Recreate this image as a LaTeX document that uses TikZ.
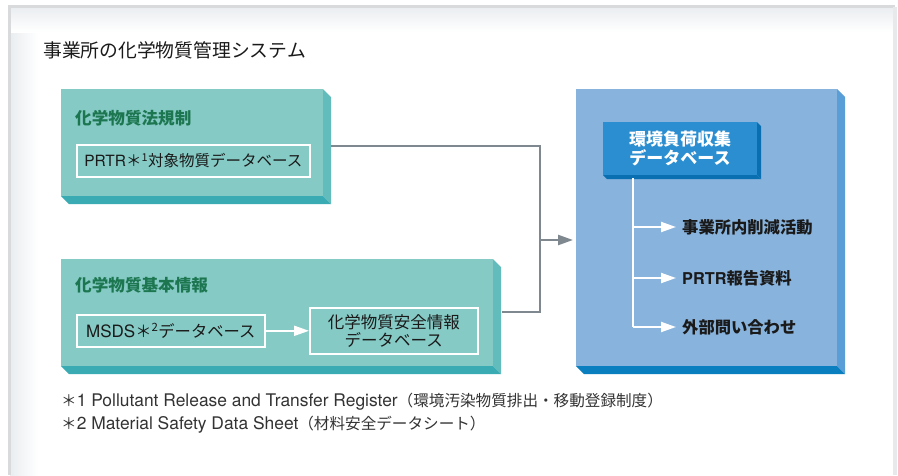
\documentclass[tikz,border=0pt]{standalone}
\usepackage{fontspec}
\setmainfont{Noto Sans CJK JP}
\newfontfamily\heros{TeX Gyre Heros}
\usetikzlibrary{arrows.meta,calc}

\definecolor{tealface}{HTML}{85CAC5}
\definecolor{tealside}{HTML}{62BCBB}
\definecolor{tealbottom}{HTML}{3AAAB3}
\definecolor{panelface}{HTML}{88B3DD}
\definecolor{panelside}{HTML}{5A9ED8}
\definecolor{panelbottom}{HTML}{0A7FBF}
\definecolor{dbface}{HTML}{2A8ED0}
\definecolor{dbside}{HTML}{0A6FB0}
\definecolor{headgreen}{HTML}{1C7650}
\definecolor{linkgray}{HTML}{7E888E}
\definecolor{framegray}{HTML}{D8DADC}
\definecolor{haze}{HTML}{EAEDF0}
\definecolor{inktext}{HTML}{1A1A1A}
\definecolor{notetext}{HTML}{333333}

% side and bottom faces of an extruded block: node, depth, side colour, bottom colour
\newcommand\sidefaces[4]{%
  \fill[#3] (#1.north east) -- ++(#2,#2) -- ($(#1.south east)+(#2,#2)$) -- (#1.south east) -- cycle;
  \fill[#4] (#1.south west) -- ++(#2,#2) -- ($(#1.south east)+(#2,#2)$) -- (#1.south east) -- cycle;}
% Latin run in the sans face at a given size
\newcommand\latinrun[2]{{\heros\fontsize{#1}{#1}\selectfont #2}}

\begin{document}
\begin{tikzpicture}[x=1pt,y=-1pt,
  face/.style={anchor=north west,inner sep=0pt,outer sep=0pt},
  heading/.style={anchor=west,inner sep=0pt,text=headgreen,font=\fontsize{16.6}{18}\selectfont\bfseries},
  wbox/.style={draw=white,line width=1.6pt,inner sep=0pt,text=inktext,font=\fontsize{15.5}{18}\selectfont,align=center},
  item/.style={anchor=west,inner sep=0pt,text=inktext,font=\fontsize{16.3}{18}\selectfont\bfseries},
  note/.style={anchor=west,inner sep=0pt,text=notetext,font=\fontsize{15.6}{16}\selectfont},
  link/.style={draw=linkgray,line width=2.4pt},
  wline/.style={draw=white,line width=2pt},
  warrow/.style={wline,-{Triangle[length=15pt,width=10pt]}}
]
\useasboundingbox (0,0) rectangle (898,475);

% page frame with soft haze along the top and left edges
\fill[white] (0,0) rectangle (898,475);
\shade[left color=haze,right color=white] (10,7) rectangle (38,475);
\shade[top color=haze,bottom color=white] (10,7) rectangle (893,32);
\fill[framegray] (8,5) rectangle (895,7.5);
\fill[framegray] (8,5) rectangle (10.5,475);
\fill[framegray!60] (893,7) rectangle (897,475);

% title
\node[anchor=west,inner sep=0pt,text=inktext,font=\fontsize{18.8}{20}\selectfont] (title) at (43,50) {事業所の化学物質管理システム};

% extruded blocks
\node[face,fill=tealface,minimum width=262pt,minimum height=107pt] (law) at (61,89) {};
\sidefaces{law}{8}{tealside}{tealbottom}
\node[face,fill=tealface,minimum width=432pt,minimum height=107pt] (info) at (61,259) {};
\sidefaces{info}{8}{tealside}{tealbottom}
\node[face,fill=panelface,minimum width=261pt,minimum height=277pt] (panel) at (576,89) {};
\sidefaces{panel}{8}{panelside}{panelbottom}
\node[face,fill=dbface,minimum width=154pt,minimum height=53pt] (db) at (603,122) {};
\sidefaces{db}{4}{dbside}{dbside}
\node[text=white,font=\fontsize{17}{19}\selectfont\bfseries,align=center,inner sep=0pt] (dbtext) at (db.center) {環境負荷収集\\データベース};

% contents of the left blocks
\node[heading] (lawhead) at (75,118) {化学物質法規制};
\node[wbox,minimum width=233pt,minimum height=32pt,anchor=north west] (prtr) at (76,144) {\latinrun{15.5}{PRTR}＊\textsuperscript{1}対象物質データベース};
\node[heading] (infohead) at (75,285) {化学物質基本情報};
\node[wbox,minimum width=188pt,minimum height=32pt,anchor=north west,font=\fontsize{16.3}{18}\selectfont] (msds) at (76,314) {\latinrun{17}{MSDS}＊\textsuperscript{2}データベース};
\node[wbox,minimum width=168pt,minimum height=46pt,anchor=north west,font=\fontsize{16.5}{18.5}\selectfont] (safety) at (309,307) {化学物質安全情報\\データベース};
\draw[warrow] (msds.east) -- (msds.east -| safety.west);

% connectors into the panel
\coordinate (lawout) at (331,146);
\coordinate (infoout) at (502,312);
\coordinate (joint) at (540,240);
\draw[link] (lawout) -| (joint);
\draw[link] (infoout) -| (joint);
\draw[link,-{Triangle[length=15pt,width=10pt]},shorten >=3pt] (joint) -- (joint -| panel.west);

% outputs of the database
\node[item] (out1) at (682,227) {事業所内削減活動};
\node[item] (out2) at (682,278) {{\heros\bfseries PRTR}報告資料};
\node[item] (out3) at (682,327) {外部問い合わせ};
\coordinate (trunk) at (633,327);
\draw[wline] (db.south -| trunk) ++(0,3) -- (trunk);
\draw[warrow,shorten >=6pt] (out1.west -| trunk) -- (out1.west);
\draw[warrow,shorten >=6pt] (out2.west -| trunk) -- (out2.west);
\draw[warrow,shorten >=6pt] (out3.west -| trunk) -- (out3.west);

% footnotes
\node[note] (note1) at (61,402) {＊\latinrun{17.4}{1 Pollutant Release and Transfer Register}（環境汚染物質排出・移動登録制度）};
\node[note] (note2) at (61,425) {＊\latinrun{17.4}{2 Material Safety Data Sheet}（材料安全データシート）};
\end{tikzpicture}
\end{document}
